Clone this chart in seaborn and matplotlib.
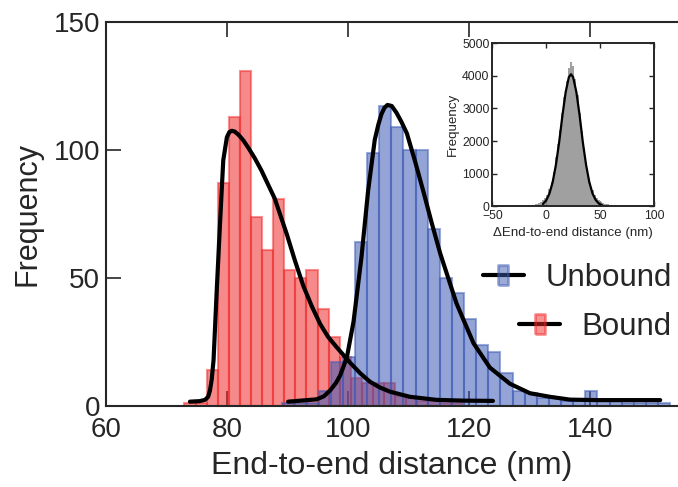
import numpy as np
import pandas as pd
import matplotlib
matplotlib.use("Agg")
import matplotlib.pyplot as plt
import seaborn as sns
from matplotlib.lines import Line2D

# main histograms (counts per bin)
bound_bin_start = 73.0
bound_bin_width = 1.83
bound_counts = [1, 1, 14, 87, 113, 131, 74, 61, 81, 53, 50, 53, 38, 27, 19,
                11, 9, 9, 9, 4, 3, 2, 2, 1, 1]

unbound_bin_start = 89.14
unbound_bin_width = 2.0
unbound_counts = [1, 1, 1, 6, 17, 19, 64, 99, 117, 109, 100, 100, 69, 50, 44,
                  34, 24, 21, 13, 6, 5, 3, 3, 2, 2, 6, 2, 2, 1, 1, 1, 1]

# fitted curves
bound_fit_x = [73.9, 75.5, 76.4, 76.9, 77.2, 77.5, 77.8, 78.3, 78.9, 79.4, 80.0, 80.4, 80.8,
               81.3, 81.9, 82.7, 83.5, 84.6, 85.7, 86.8, 87.9, 89.9, 91.2, 92.6, 94.0, 95.4,
               96.7, 98.1, 100.3, 102.0, 103.6, 105.2, 106.9, 110.2, 114.6, 119.0, 123.9]
bound_fit_y = [1.7, 1.9, 2.4, 3.6, 6, 10.5, 18, 44, 73, 96, 105, 107, 107.5,
               107.2, 106, 103.8, 101, 96.8, 92, 86.5, 81, 67, 57, 47, 39, 32,
               27, 23, 17, 12.8, 9.5, 7.3, 5.6, 3.6, 2.4, 2.1, 2.0]

unbound_fit_x = [90.1, 94.8, 96.0, 97.0, 98.0, 98.7, 99.8, 100.9, 102.2, 103.3, 104.4, 105.0,
                 105.5, 106.0, 106.5, 107.2, 108.0, 108.8, 109.7, 111.0, 112.4, 113.8, 115.2,
                 117.9, 120.7, 123.4, 126.7, 130.0, 133.3, 136.6, 141.0, 151.5]
unbound_fit_y = [1.7, 2.6, 3.8, 6, 9, 12, 19, 33, 58, 84, 104, 110,
                 114, 116.5, 117.6, 117.2, 114.5, 111, 106.5, 96, 84, 71.5, 59.6,
                 40, 24.5, 15, 8.7, 5, 3.6, 2.5, 2.3, 2.3]

# inset: difference histogram
delta_bin_start = -20
delta_bin_width = 2
delta_counts = [6, 12, 20, 30, 40, 60, 90, 130, 180, 250, 360, 520, 750, 1050, 1500,
                1900, 2350, 2850, 3350, 3850, 4250, 4430, 4300, 3900, 3400, 2850, 2300, 1800,
                1350, 1000, 720, 500, 350, 250, 180, 130, 100, 80, 60, 45, 30, 20, 12, 6]
delta_fit_x = [-3, 0, 3, 6, 9, 12, 15, 18, 21, 23, 25, 28, 31, 34, 37, 40, 43, 46, 49, 52]
delta_fit_y = [70, 180, 390, 740, 1270, 1960, 2770, 3490, 3960, 4050, 3960, 3500, 2790,
               1960, 1270, 740, 390, 190, 80, 30]

RED = (0.94, 0.16, 0.16)
BLUE = (0.24, 0.35, 0.71)


def hist_frame(start, width, counts):
    e = start + width * np.arange(len(counts) + 1)
    df = pd.DataFrame({"x": (e[:-1] + e[1:]) / 2, "w": counts})
    return df, [float(v) for v in e]


sns.set_style("ticks")
plt.rcParams['font.family'] = ['Liberation Sans', 'DejaVu Sans']

fig = plt.figure(figsize=(6.78, 4.87), dpi=100)
ax = fig.add_axes([0.1559, 0.1663, 0.8441, 0.7885])

bdf, be = hist_frame(bound_bin_start, bound_bin_width, bound_counts)
udf, ue = hist_frame(unbound_bin_start, unbound_bin_width, unbound_counts)
sns.histplot(data=bdf, x="x", weights="w", bins=be, ax=ax,
             color=RED, edgecolor=RED + (0.5,), alpha=0.55, linewidth=1.5)
sns.histplot(data=udf, x="x", weights="w", bins=ue, ax=ax,
             color=BLUE, edgecolor=BLUE + (0.5,), alpha=0.55, linewidth=1.5)
sns.lineplot(x=bound_fit_x, y=bound_fit_y, sort=False, estimator=None, color='black', lw=3, ax=ax)
sns.lineplot(x=unbound_fit_x, y=unbound_fit_y, sort=False, estimator=None, color='black', lw=3, ax=ax)

ax.set_xlim(60, 154.44)
ax.set_ylim(0, 150)
ax.set_xticks([60, 80, 100, 120, 140])
ax.set_yticks([0, 50, 100, 150])
ax.tick_params(direction='in', length=10.5, width=1.2, labelsize=20, top=True, right=False)
ax.tick_params(axis='x', pad=8)
ax.tick_params(axis='y', pad=4)
for s in ['left', 'bottom', 'top']:
    ax.spines[s].set_linewidth(1.5)
ax.spines['right'].set_visible(False)
ax.set_xlabel("End-to-end distance (nm)", fontsize=23, labelpad=6)
ax.set_ylabel("Frequency", fontsize=22, labelpad=8)

# legends (two, right aligned like the original)
rect = [(-0.5, -1), (0.5, -1), (0.5, 1), (-0.5, 1), (-0.5, -1)]
h_un = Line2D([], [], color='black', lw=3, marker=rect, markersize=14,
              markerfacecolor=BLUE + (0.5,), markeredgecolor=BLUE + (0.5,), markeredgewidth=2)
h_b = Line2D([], [], color='black', lw=3, marker=rect, markersize=14,
             markerfacecolor=RED + (0.5,), markeredgecolor=RED + (0.5,), markeredgewidth=2)
leg1 = ax.legend([h_un], ["Unbound"], loc='center right', bbox_to_anchor=(672 / 678, 1 - 278 / 487),
                 bbox_transform=fig.transFigure, frameon=False, fontsize=22.5, borderpad=0,
                 borderaxespad=0, handlelength=1.3, handletextpad=0.7)
ax.add_artist(leg1)
ax.legend([h_b], ["Bound"], loc='center right', bbox_to_anchor=(672 / 678, 1 - 327 / 487),
          bbox_transform=fig.transFigure, frameon=False, fontsize=22.5, borderpad=0,
          borderaxespad=0, handlelength=1.3, handletextpad=0.7)

# inset
ins = fig.add_axes([0.7261, 0.5764, 0.2385, 0.3347])
ddf, de = hist_frame(delta_bin_start, delta_bin_width, delta_counts)
sns.histplot(data=ddf, x="x", weights="w", bins=de, ax=ins,
             element='step', fill=True, color='#8f8f8f', alpha=0.85, linewidth=0)
sns.lineplot(x=delta_fit_x, y=delta_fit_y, sort=False, estimator=None, color='black', lw=1.6, ax=ins)
ins.set_xlim(-50, 100)
ins.set_ylim(0, 5000)
ins.set_xticks([-50, 0, 50, 100])
ins.set_yticks([0, 1000, 2000, 3000, 4000, 5000])
ins.tick_params(direction='in', length=3.5, width=1, labelsize=8.8, top=True, right=True)
ins.tick_params(axis='x', pad=3)
ins.tick_params(axis='y', pad=2)
for s in ins.spines.values():
    s.set_linewidth(1.4)
ins.set_xlabel("\u0394End-to-end distance (nm)", fontsize=9.6, labelpad=3)
ins.set_ylabel("Frequency", fontsize=9.6, labelpad=2)

fig.savefig("out.png", dpi=100)
